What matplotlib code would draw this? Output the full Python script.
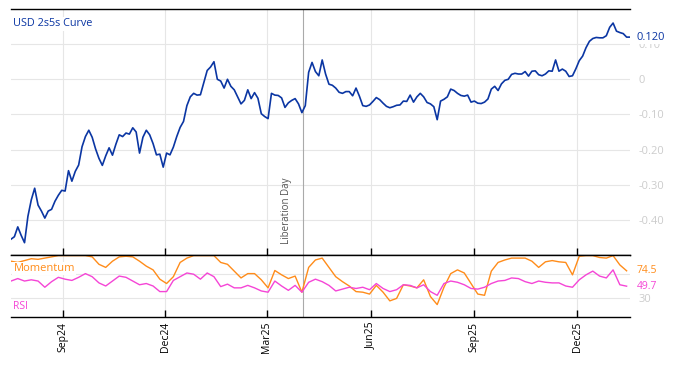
import matplotlib
matplotlib.use("Agg")
import matplotlib.pyplot as plt
import matplotlib.dates as mdates
import pandas as pd

plt.rcParams["font.family"] = ["Open Sans", "DejaVu Sans"]

# USD 2s5s curve, every 3 days from 17 Jul 2024
curve_start = "2024-07-17"
curve = [
    -0.455, -0.448, -0.420, -0.444, -0.465, -0.390, -0.343, -0.310, -0.358, -0.375,
    -0.395, -0.375, -0.370, -0.347, -0.330, -0.316, -0.318, -0.260, -0.290, -0.262,
    -0.244, -0.192, -0.163, -0.145, -0.165, -0.198, -0.225, -0.245, -0.218, -0.195,
    -0.216, -0.185, -0.158, -0.163, -0.153, -0.156, -0.138, -0.150, -0.210, -0.165,
    -0.145, -0.158, -0.183, -0.215, -0.213, -0.250, -0.210, -0.215, -0.193, -0.163,
    -0.137, -0.120, -0.075, -0.050, -0.040, -0.045, -0.044, -0.010, 0.025, 0.035,
    0.050, 0.000, -0.005, -0.025, 0.000, -0.020, -0.030, -0.050, -0.070, -0.060,
    -0.030, -0.055, -0.038, -0.054, -0.098, -0.106, -0.112, -0.040, -0.045, -0.046,
    -0.053, -0.080, -0.067, -0.060, -0.055, -0.070, -0.095, -0.075, 0.020, 0.048,
    0.022, 0.010, 0.055, 0.015, -0.014, -0.017, -0.025, -0.037, -0.040, -0.035,
    -0.035, -0.047, -0.025, -0.048, -0.075, -0.077, -0.073, -0.063, -0.052, -0.058,
    -0.068, -0.077, -0.081, -0.078, -0.074, -0.073, -0.062, -0.063, -0.045, -0.065,
    -0.050, -0.040, -0.050, -0.066, -0.070, -0.078, -0.115, -0.062, -0.057, -0.050,
    -0.028, -0.032, -0.040, -0.046, -0.048, -0.045, -0.065, -0.062, -0.068, -0.069,
    -0.065, -0.056, -0.028, -0.020, -0.032, -0.013, -0.003, 0.000, 0.014, 0.017,
    0.015, 0.015, 0.022, 0.009, 0.023, 0.024, 0.013, 0.010, 0.015, 0.024,
    0.023, 0.055, 0.023, 0.029, 0.023, 0.008, 0.010, 0.030, 0.053, 0.066,
    0.090, 0.108, 0.116, 0.119, 0.118, 0.118, 0.124, 0.148, 0.160, 0.137,
    0.133, 0.130, 0.120, 0.120,
]

# indicators, every 6 days from the same start
momentum = [
    90, 88, 91, 94, 93, 95, 97, 99, 99, 99, 99, 99, 97, 85, 80, 90, 97, 98, 97, 90,
    82, 76, 61, 54, 65, 88, 95, 99, 99, 99, 99, 88, 85, 74, 63, 70, 70, 60, 47, 75,
    68, 62, 66, 40, 80, 92, 95, 80, 65, 57, 50, 41, 40, 37, 51, 40, 26, 30, 52, 50,
    47, 60, 33, 20, 48, 70, 76, 71, 54, 37, 35, 74, 88, 92, 95, 95, 95, 90, 80, 89,
    91, 89, 88, 68, 98, 99, 99, 96, 95, 99, 84, 74.5,
]
rsi = [
    58, 62, 58, 60, 58, 48, 57, 64, 61, 59, 64, 70, 65, 55, 50, 58, 66, 64, 58, 52,
    54, 50, 41, 41, 59, 65, 71, 69, 61, 71, 65, 49, 53, 47, 47, 51, 47, 42, 40, 58,
    50, 43, 51, 40, 56, 61, 57, 51, 42, 45, 48, 46, 48, 44, 54, 46, 41, 44, 52, 51,
    47, 52, 41, 35, 54, 58, 56, 52, 46, 45, 48, 54, 58, 59, 63, 62, 57, 54, 58, 56,
    55, 55, 50, 48, 60, 68, 74, 66, 63, 76, 52, 49.7,
]

event_date = pd.Timestamp("2025-04-02")
event_label = "Liberation Day"

curve_dates = pd.date_range(curve_start, periods=len(curve), freq="3D")
ind_dates = pd.date_range(curve_start, periods=len(momentum), freq="6D")

blue = "#0b36a3"
orange = "#ff8c1a"
pink = "#f545d6"
grid_c = "#e6e6e6"
tick_c = "#cccccc"

fig = plt.figure(figsize=(6.74, 3.66), dpi=100)
ax = fig.add_axes([11 / 674, 1 - 255 / 366, 619 / 674, 246 / 366])
ax2 = fig.add_axes([11 / 674, 1 - 317 / 366, 619 / 674, 62 / 366], sharex=ax)

ax.plot(curve_dates, curve, color=blue, lw=1.2)
ax.set_ylim(-0.5, 0.2)
ax.set_yticks([-0.4, -0.3, -0.2, -0.1, 0, 0.1])
ax.set_yticklabels(["-0.40", "-0.30", "-0.20", "-0.10", "0", "0.10"])

ax2.plot(ind_dates, momentum, color=orange, lw=1.0)
ax2.plot(ind_dates, rsi, color=pink, lw=1.0)
ax2.set_ylim(0, 100)
ax2.set_yticks([30, 70])
ax2.set_yticklabels(["30", ""])

ax.set_xlim(curve_dates[0], curve_dates[-1])

for a in (ax, ax2):
    a.grid(True, color=grid_c, lw=0.8)
    a.set_axisbelow(True)
    for s in ("left", "right"):
        a.spines[s].set_visible(False)
    for s in ("top", "bottom"):
        a.spines[s].set_color("black")
        a.spines[s].set_linewidth(1.0)
    a.yaxis.tick_right()
    a.tick_params(axis="y", length=0, pad=6, labelsize=8, labelcolor=tick_c)
    a.tick_params(axis="x", direction="in", length=5, width=1, color="black")
    a.axvline(event_date, color="#aaaaaa", lw=0.8, zorder=1)

ax.xaxis.set_major_locator(mdates.MonthLocator(bymonth=[3, 6, 9, 12]))
ax.xaxis.set_major_formatter(mdates.DateFormatter("%b%y"))
ax.tick_params(axis="x", labelbottom=False)
ax2.tick_params(axis="x", labelsize=7.5, labelrotation=90, labelcolor="black")

box = dict(facecolor="white", edgecolor="none", pad=1)
ax.text(0.004, 0.94, "USD 2s5s Curve", transform=ax.transAxes, color=blue,
        fontsize=7.8, va="center", ha="left", bbox=box)
ax.annotate(event_label, xy=(event_date, -0.5), xytext=(-8, 8),
            textcoords="offset points", rotation=90, ha="right", va="bottom",
            fontsize=7, color="#555555")

ax.annotate(f"{curve[-1]:.3f}", xy=(1, curve[-1]), xycoords=("axes fraction", "data"),
            xytext=(5, 0), textcoords="offset points", va="center", ha="left",
            color=blue, fontsize=8, bbox=box, annotation_clip=False)

ax2.text(0.004, 0.78, "Momentum", transform=ax2.transAxes, color=orange,
         fontsize=8, va="center", ha="left", bbox=box)
ax2.text(0.004, 0.17, "RSI", transform=ax2.transAxes, color=pink,
         fontsize=7.5, va="center", ha="left", bbox=box)
ax2.annotate(f"{momentum[-1]:.1f}", xy=(1, momentum[-1]), xycoords=("axes fraction", "data"),
             xytext=(5, 0), textcoords="offset points", va="center", ha="left",
             color=orange, fontsize=7.5, bbox=box, annotation_clip=False)
ax2.annotate(f"{rsi[-1]:.1f}", xy=(1, rsi[-1]), xycoords=("axes fraction", "data"),
             xytext=(5, 0), textcoords="offset points", va="center", ha="left",
             color=pink, fontsize=7.5, bbox=box, annotation_clip=False)

fig.savefig("out.png", dpi=100)
